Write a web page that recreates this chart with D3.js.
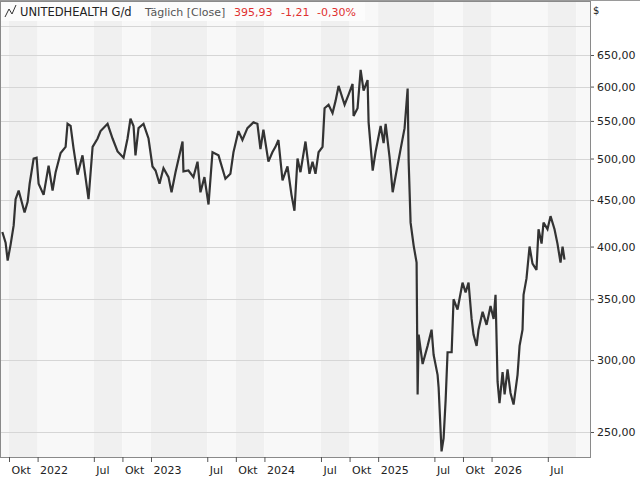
<!DOCTYPE html>
<html><head><meta charset="utf-8">
<script src="https://cdn.jsdelivr.net/npm/d3@7"></script>
<style>body{margin:0;background:#fff}svg{display:block;font-family:"DejaVu Sans",sans-serif}</style>
</head><body><svg id="c" width="640" height="480"></svg>
<script>
// data: decimal year, close
const years = [2021.689,2021.718,2021.736,2021.762,2021.789,2021.806,2021.833,2021.885,2021.912,2021.930,2021.965,2021.991,2022.009,2022.053,2022.097,2022.132,2022.159,2022.203,2022.247,2022.264,2022.291,2022.317,2022.352,2022.396,2022.449,2022.485,2022.529,2022.555,2022.617,2022.661,2022.705,2022.758,2022.793,2022.819,2022.846,2022.863,2022.890,2022.934,2022.978,2023.013,2023.040,2023.075,2023.110,2023.154,2023.181,2023.216,2023.278,2023.286,2023.330,2023.374,2023.410,2023.436,2023.471,2023.507,2023.542,2023.595,2023.656,2023.700,2023.727,2023.771,2023.806,2023.850,2023.903,2023.938,2023.965,2023.991,2024.035,2024.070,2024.097,2024.123,2024.159,2024.203,2024.238,2024.264,2024.291,2024.317,2024.361,2024.396,2024.423,2024.449,2024.476,2024.511,2024.529,2024.564,2024.599,2024.626,2024.652,2024.705,2024.740,2024.775,2024.784,2024.819,2024.846,2024.872,2024.907,2024.916,2024.952,2024.978,2025.022,2025.048,2025.066,2025.101,2025.128,2025.163,2025.198,2025.233,2025.260,2025.269,2025.286,2025.313,2025.339,2025.348,2025.357,2025.392,2025.436,2025.471,2025.489,2025.524,2025.533,2025.559,2025.577,2025.595,2025.612,2025.648,2025.665,2025.700,2025.744,2025.771,2025.797,2025.824,2025.841,2025.868,2025.885,2025.921,2025.956,2025.991,2026.018,2026.035,2026.053,2026.070,2026.097,2026.115,2026.141,2026.167,2026.194,2026.229,2026.247,2026.273,2026.282,2026.308,2026.335,2026.361,2026.396,2026.414,2026.441,2026.458,2026.493,2026.520,2026.555,2026.581,2026.608,2026.626,2026.643];
const closes = [415,404,386,402,422,451,461,436,448,469,500,501,469,456,491,461,483,507,515,546,543,513,480,504,451,515,526,536,546,526,509,501,526,553,543,504,540,546,526,490,485,469,488,477,459,483,522,484,485,477,496,459,477,445,508,504,475,481,508,536,524,540,548,546,512,538,496,508,515,524,473,490,456,438,500,483,522,481,496,481,508,515,568,573,561,579,601,573,588,604,557,568,626,594,610,548,485,509,543,520,546,501,459,485,512,540,597,496,425,401,384,275,320,297,311,324,304,289,280,238,246,271,306,306,350,341,365,356,365,333,320,311,324,339,328,344,333,354,284,269,291,275,293,276,268,289,311,324,354,369,400,383,377,418,403,425,418,432,418,403,384,400,387,395.93];
const yTicks = [250,300,350,400,450,500,550,600,650];
const xTickDates = ["2021-07-01","2021-10-01","2022-01-01","2022-07-01","2022-10-01","2023-01-01","2023-07-01","2023-10-01","2024-01-01","2024-07-01","2024-10-01","2025-01-01","2025-07-01","2025-10-01","2026-01-01","2026-07-01","2026-10-01","2027-01-01"];
const labelDates = ["2021-10-01","2022-01-01","2022-07-01","2022-10-01","2023-01-01","2023-07-01","2023-10-01","2024-01-01","2024-07-01","2024-10-01","2025-01-01","2025-07-01","2025-10-01","2026-01-01","2026-07-01"];
const monthNames = {6:"Jul",9:"Okt"};
const header = {name:"UNITEDHEALTH G/d", mode:"Täglich [Close]", last:"395,93", chg:"-1,21", pct:"-0,30%"};

const decToDate = y => { const yr=Math.floor(y); const s=new Date(yr,0,1), e=new Date(yr+1,0,1); return new Date(+s+(y-yr)*(e-s)); };
const data = years.map((y,i)=>({d:decToDate(y),v:closes[i]}));
const tickDates = xTickDates.map(s=>new Date(s+"T00:00:00"));

const L=0,R=591,T=1,B=457;
const x = d3.scaleTime().domain([new Date("2021-09-02T00:00:00"),new Date("2026-11-17T00:00:00")]).range([L,R]);
const y = d3.scaleLog().domain([250,650]).range([432,55]);
const svg = d3.select("#c");
const fmt = v => d3.format(".2f")(v).replace(".",",");

const g = svg.append("g");
svg.append("clipPath").attr("id","cl").append("rect").attr("x",L).attr("y",T).attr("width",R-L).attr("height",B-T);
for(let i=0;i<tickDates.length-1;i++){
  const x0=Math.max(L,x(tickDates[i])), x1=Math.min(R,x(tickDates[i+1]));
  if(x1<=x0) continue;
  g.append("rect").attr("x",x0).attr("y",T).attr("width",x1-x0).attr("height",B-T).attr("fill", i%2===1?"#f0f0f0":"#f8f8f8");
}
const grid=[...yTicks,700];
g.selectAll("line.gr").data(grid).join("line").attr("x1",L).attr("x2",R).attr("y1",d=>Math.round(y(d))+0.5).attr("y2",d=>Math.round(y(d))+0.5).attr("stroke","#d6d6d6");
g.append("path").datum(data).attr("clip-path","url(#cl)").attr("fill","none").attr("stroke","#333").attr("stroke-width",2.2).attr("stroke-linejoin","miter").attr("stroke-miterlimit",3)
 .attr("d",d3.line().x(d=>x(d.d)).y(d=>y(d.v)));
svg.append("rect").attr("x",L+0.5).attr("y",T+0.5).attr("width",R-L-1).attr("height",B-T).attr("fill","none").attr("stroke","#8a8a8a");
svg.append("line").attr("x1",0).attr("x2",640).attr("y1",0.5).attr("y2",0.5).attr("stroke","#9a9a9a");
const ya = svg.append("g").attr("transform",`translate(${R},0)`).call(d3.axisRight(y).tickValues(yTicks).tickFormat(fmt).tickSize(3).tickPadding(3));
ya.select(".domain").remove();
ya.selectAll("text").attr("font-size",11).attr("fill","#222").attr("font-family","DejaVu Sans");
ya.selectAll("line").attr("stroke","#555");
svg.append("text").attr("x",593).attr("y",14).attr("font-size",10).attr("fill","#222").text("$");
const xa = svg.append("g").attr("transform",`translate(0,${B})`).call(d3.axisBottom(x).tickValues(labelDates.map(s=>new Date(s+"T00:00:00"))).tickSize(5).tickPadding(0)
  .tickFormat(d=>d.getMonth()===0?String(d.getFullYear()):monthNames[d.getMonth()]));
xa.select(".domain").remove();
xa.selectAll("line").attr("stroke","#555");
xa.selectAll("text").attr("font-size",11).attr("fill","#222").attr("text-anchor","start").attr("x",2).attr("y",9).attr("dy","0.71em").attr("font-family","DejaVu Sans");
svg.append("rect").attr("x",1).attr("y",2).attr("width",364).attr("height",19).attr("fill","#fcfcfc");
svg.append("path").attr("d","M5,17 L9,9 L12,14 L16,5").attr("fill","none").attr("stroke","#333").attr("stroke-width",1);
const hs=[[20,"#222",header.name,11.5],[145,"#555",header.mode,11],[234,"#e03030",header.last,11],[281,"#e03030",header.chg,11],[317,"#e03030",header.pct,11]];
hs.forEach(h=>svg.append("text").attr("x",h[0]).attr("y",16).attr("font-size",h[3]).attr("fill",h[1]).text(h[2]));
</script></body></html>
